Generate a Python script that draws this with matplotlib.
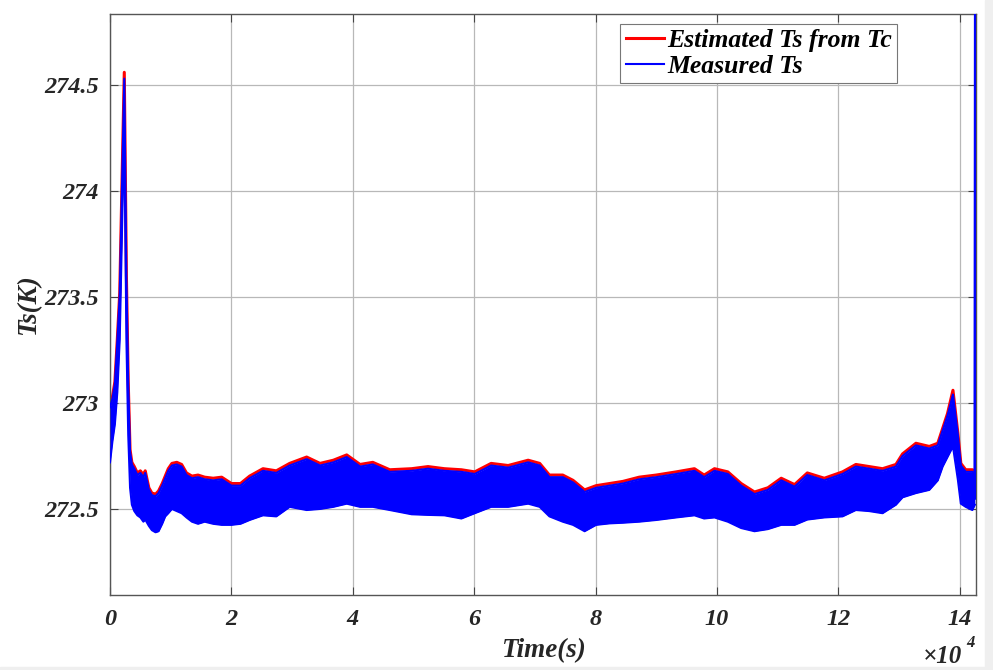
import matplotlib
matplotlib.use("Agg")
import matplotlib.pyplot as plt
from matplotlib.patches import Rectangle

# time in units of 1e4 s
t = [0.00, 0.04, 0.08, 0.12, 0.16, 0.20, 0.235, 0.27, 0.30, 0.33,
     0.36, 0.40, 0.45, 0.50, 0.55, 0.58, 0.64, 0.69, 0.75, 0.80,
     0.86, 0.91, 0.96, 1.02, 1.10, 1.18, 1.26, 1.35, 1.45, 1.56,
     1.70, 1.84, 2.00, 2.15, 2.30, 2.52, 2.74, 2.96, 3.24, 3.46,
     3.68, 3.90, 4.12, 4.33, 4.61, 4.97, 5.24, 5.51, 5.79, 6.01,
     6.28, 6.56, 6.89, 7.08, 7.24, 7.46, 7.63, 7.82, 8.01, 8.23,
     8.45, 8.72, 9.00, 9.33, 9.63, 9.79, 9.96, 10.18, 10.40, 10.62,
     10.84, 11.06, 11.28, 11.49, 11.77, 12.07, 12.29, 12.51, 12.73, 12.95,
     13.06, 13.28, 13.50, 13.64, 13.72, 13.80, 13.89, 13.97, 14.02, 14.10,
     14.21, 14.25]

# upper edge of the estimated Ts trace
est_upper = [272.99, 273.03, 273.10, 273.30, 273.52, 274.08, 274.56, 273.60, 273.10, 272.78,
             272.72, 272.70, 272.67, 272.68, 272.66, 272.68, 272.60, 272.575, 272.57, 272.585,
             272.62, 272.655, 272.69, 272.715, 272.72, 272.71, 272.67, 272.655, 272.66, 272.65,
             272.645, 272.65, 272.62, 272.62, 272.655, 272.69, 272.68, 272.715, 272.745, 272.715,
             272.73, 272.755, 272.71, 272.72, 272.685, 272.69, 272.70, 272.69, 272.685, 272.675,
             272.715, 272.705, 272.73, 272.715, 272.66, 272.66, 272.635, 272.59, 272.61, 272.62,
             272.63, 272.65, 272.66, 272.675, 272.69, 272.66, 272.69, 272.675, 272.62, 272.58,
             272.60, 272.645, 272.615, 272.67, 272.645, 272.675, 272.71, 272.70, 272.69, 272.71,
             272.76, 272.81, 272.795, 272.81, 272.88, 272.95, 273.06, 272.86, 272.715, 272.685,
             272.685, 272.68]

# band of the measured Ts trace
meas_upper = [272.98, 273.02, 273.09, 273.29, 273.51, 274.06, 274.53, 273.58, 273.09, 272.77,
              272.71, 272.69, 272.66, 272.67, 272.65, 272.67, 272.59, 272.565, 272.56, 272.575,
              272.61, 272.645, 272.68, 272.705, 272.71, 272.70, 272.66, 272.645, 272.65, 272.64,
              272.635, 272.64, 272.61, 272.61, 272.645, 272.68, 272.67, 272.705, 272.735, 272.705,
              272.72, 272.745, 272.70, 272.71, 272.675, 272.68, 272.69, 272.68, 272.675, 272.665,
              272.705, 272.695, 272.72, 272.705, 272.65, 272.65, 272.625, 272.58, 272.60, 272.61,
              272.62, 272.64, 272.65, 272.665, 272.68, 272.65, 272.68, 272.665, 272.61, 272.57,
              272.59, 272.635, 272.605, 272.66, 272.635, 272.665, 272.70, 272.69, 272.68, 272.70,
              272.75, 272.80, 272.785, 272.80, 272.87, 272.94, 273.04, 272.85, 272.705, 272.675,
              272.675, 272.67]

meas_lower = [272.72, 272.82, 272.90, 273.05, 273.30, 273.85, 274.30, 273.30, 272.85, 272.60,
              272.52, 272.49, 272.47, 272.46, 272.44, 272.45, 272.42, 272.40, 272.39, 272.395,
              272.43, 272.465, 272.48, 272.50, 272.49, 272.48, 272.46, 272.44, 272.43, 272.44,
              272.43, 272.425, 272.425, 272.43, 272.448, 272.47, 272.465, 272.51, 272.495, 272.50,
              272.51, 272.525, 272.51, 272.51, 272.495, 272.475, 272.472, 272.47, 272.455, 272.48,
              272.51, 272.51, 272.525, 272.51, 272.465, 272.44, 272.425, 272.395, 272.425, 272.432,
              272.435, 272.44, 272.448, 272.46, 272.47, 272.455, 272.46, 272.44, 272.41, 272.395,
              272.405, 272.425, 272.425, 272.45, 272.46, 272.465, 272.495, 272.49, 272.48, 272.52,
              272.555, 272.575, 272.59, 272.635, 272.70, 272.745, 272.795, 272.64, 272.525, 272.51,
              272.495, 272.52]

# last measured sample jumps off the top of the axes
meas_tail_t = [14.25, 14.26]
meas_tail = [272.55, 275.5]

xticks = [0, 2, 4, 6, 8, 10, 12, 14]
yticks = [272.5, 273, 273.5, 274, 274.5]
ytick_labels = ["272.5", "273", "273.5", "274", "274.5"]

serif = ["Liberation Serif", "DejaVu Serif"]
plt.rcParams["font.family"] = serif

fig = plt.figure(figsize=(9.93, 6.70), dpi=100)
ax = fig.add_axes([0.1108, 0.1119, 0.8721, 0.8672])

ax.plot(t, est_upper, color="#ff0000", lw=2.2, label="Estimated Ts from Tc", zorder=2)
ax.fill_between(t, meas_lower, meas_upper, color="#0000ff", lw=0, zorder=3)
ax.plot(t, meas_upper, color="#0000ff", lw=1.5, label="Measured Ts", zorder=4)
ax.plot(t, meas_lower, color="#0000ff", lw=1.5, zorder=4)
ax.plot(meas_tail_t, meas_tail, color="#0000ff", lw=2, zorder=4)

ax.set_xlim(0, 14.27)
ax.set_ylim(272.094, 274.835)
ax.set_xticks(xticks)
ax.set_xticklabels([str(v) for v in xticks])
ax.set_yticks(yticks)
ax.set_yticklabels(ytick_labels)

ax.grid(True, color="#b8b8b8", lw=0.9)
ax.set_axisbelow(True)
for s in ax.spines.values():
    s.set_color("#555555")
    s.set_linewidth(1.0)
ax.tick_params(direction="in", length=6, width=0.8, color="#444444",
               top=True, right=True, labelsize=17.5, labelcolor="#262626")
ax.tick_params(axis="x", pad=10)
ax.tick_params(axis="y", pad=8)
for lab in ax.get_xticklabels() + ax.get_yticklabels():
    lab.set_fontweight("bold")
    lab.set_fontstyle("italic")

ax.set_xlabel("Time(s)", fontsize=19.5, fontweight="bold", fontstyle="italic",
              color="#262626", labelpad=6)
ax.set_ylabel("Ts(K)", fontsize=19.5, fontweight="bold", fontstyle="italic",
              color="#262626", labelpad=2)

fig.text(0.929, 0.011, "\u00d710", fontsize=18, fontstyle="italic",
         fontweight="bold", color="#262626", ha="left", va="baseline")
fig.text(0.973, 0.034, "4", fontsize=12, fontstyle="italic",
         fontweight="bold", color="#262626", ha="left", va="baseline")

leg = ax.legend(loc="upper right", bbox_to_anchor=(0.9088, 0.983), borderaxespad=0,
                fancybox=False, framealpha=1, edgecolor="#777777",
                handlelength=1.5, handletextpad=0.12, labelspacing=0.1,
                borderpad=0.2, prop={"size": 18.5, "weight": "bold", "style": "italic"})
leg.get_frame().set_linewidth(0.8)

# light border strip at the right and bottom of the screenshot
fig.patches.append(Rectangle((0.992, 0), 0.008, 1, transform=fig.transFigure,
                             color="#efefef", zorder=-1))
fig.patches.append(Rectangle((0, 0), 1, 0.004, transform=fig.transFigure,
                             color="#efefef", zorder=-1))

fig.savefig("out.png", dpi=100)
